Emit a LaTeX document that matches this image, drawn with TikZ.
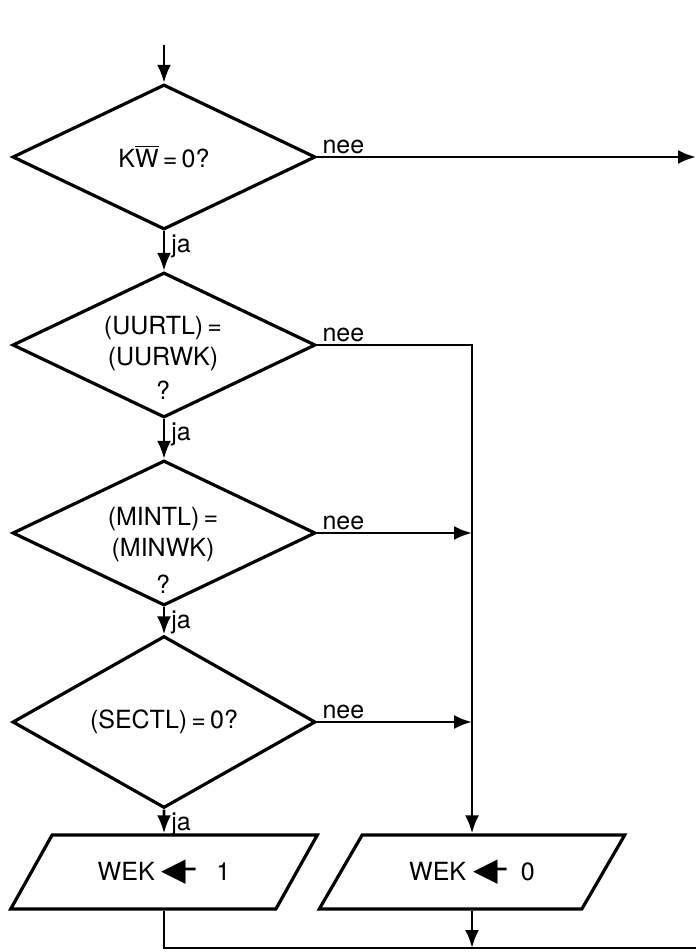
\documentclass[tikz,border=0pt]{standalone}
\usepackage{fontspec}
\setmainfont{TeX Gyre Heros}
\newfontfamily\symFont{DejaVu Sans}
\usetikzlibrary{shapes.geometric,arrows.meta}
\newcommand{\getsArrow}{{\symFont\fontsize{16}{16}\selectfont ◀\kern-5pt─}}
\tikzset{
  every node/.style={font=\fontsize{12.5}{15.5}\selectfont},
  testNode/.style={diamond,draw,line width=1.6pt,inner sep=0pt,minimum width=151.5pt,minimum height=72.5pt},
  ioNode/.style={trapezium,trapezium left angle=45,trapezium right angle=135,trapezium stretches=true,
    draw,line width=1.6pt,inner sep=0pt,minimum width=153.5pt,minimum height=37pt},
  qText/.style={align=center,inner sep=0pt},
  flow/.style={line width=1.4pt,-{Latex[length=9pt,width=7pt]}},
  nee/.style={pos=0,anchor=south west,inner sep=1pt,xshift=1pt},
  ja/.style={pos=0,anchor=north west,inner sep=1pt,xshift=2pt}
}

\begin{document}
\begin{tikzpicture}[x=0.5pt,y=-0.5pt]
  \useasboundingbox (0,0) rectangle (696,952);
  \coordinate (start) at (164,45);
  \node[testNode] (T1) at (164,157) {K$\overline{\hbox{W}}$\,=\,0?};
  \node[testNode] (T2) at (164,345) {};
  \node[testNode] (T3) at (164,533) {};
  \node[testNode] (T4) at (164,722) {(SECTL)\,=\,0?};
  \node[qText] (Q2) at (163,358) {(UURTL)\,=\\(UURWK)\\[1.5pt]?};
  \node[qText] (Q3) at (163,550) {(MINTL)\,=\\(MINWK)\\[3pt]?};
  \node[ioNode] (W1) at (164,872) {WEK\ \getsArrow\ \ \ 1};
  \node[ioNode] (W0) at (472,872) {WEK\ \getsArrow\ \ 0};
  \coordinate (out) at (696,157);
  \coordinate (end) at (696,948);

  \draw[flow] (start) -- (T1.north);
  \foreach \a/\b in {T1/T2,T2/T3,T3/T4,T4/W1}
      \draw[flow] (\a.south) -- (\b.north) node[ja] {ja};
  \draw[flow] (T1.east) -- (out) node[nee] {nee};
  \draw[flow] (T2.east) -- (T2.east -| W0.north) node[nee] {nee} -- (W0.north);
  \foreach \t in {T3,T4}
      \draw[flow] (\t.east) -- (\t.east -| W0.north) node[nee] {nee};
  \draw[line width=1.4pt] (W1.south) |- (end);
  \draw[flow] (W0.south) -- (W0.south |- end);
\end{tikzpicture}
\end{document}
